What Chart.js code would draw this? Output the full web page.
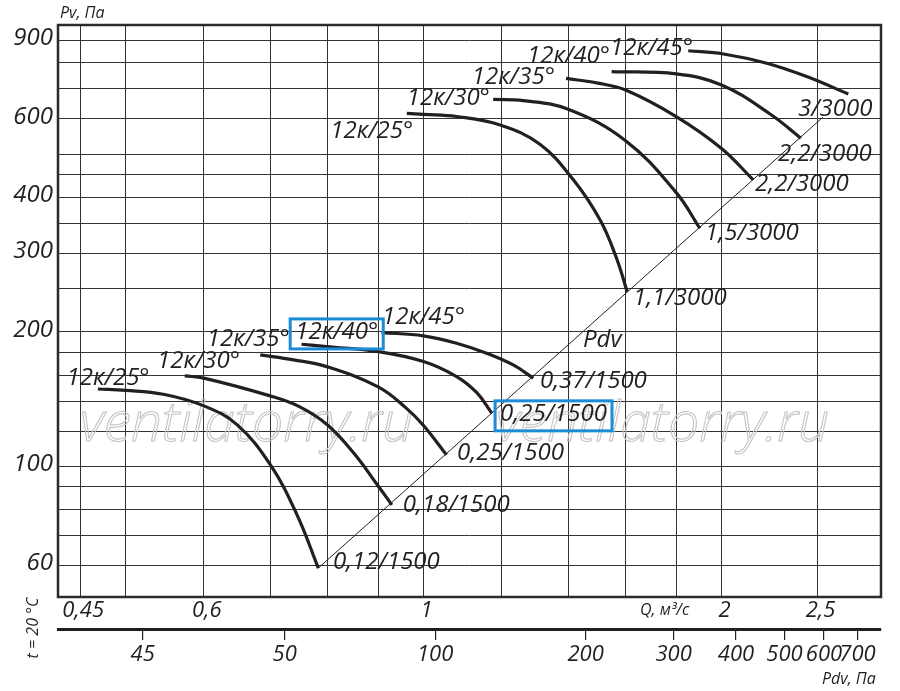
<!DOCTYPE html>
<html>
<head>
<meta charset="utf-8">
<script src="https://cdn.jsdelivr.net/npm/chart.js@4.4.1/dist/chart.umd.min.js"></script>
<style>
  html, body { margin: 0; padding: 0; background: #fff; }
  #wrap { width: 900px; height: 691px; }
</style>
</head>
<body>
<div id="wrap"><canvas id="chart"></canvas></div>
<script>
// Q, m3/s (log axis): grid lines and labelled ticks
const qGrid = [0.45, 0.5, 0.6, 0.7, 0.8, 0.9, 1, 1.2, 1.4, 1.6, 1.8, 2, 2.5];
const qTickValues = [0.45, 0.6, 1, 2, 2.5];
const qTickLabels = ['0,45', '0,6', '1', '2', '2,5'];
const qRange = [0.4274, 2.898];

// Pv, Pa (log axis)
const pGrid = [60, 70, 80, 90, 100, 120, 140, 160, 180, 200, 250, 300, 350, 400, 450, 500, 600, 700, 800, 900];
const pTickValues = [60, 100, 200, 300, 400, 600, 900];
const pRange = [51, 973];

// Pdv, Pa (second log axis under Q)
const pdvTickValues = [26, 50, 100, 200, 300, 400, 500, 600, 700];
const pdvTickLabels = ['45', '50', '100', '200', '300', '400', '500', '600', '700'];
const pdvRange = [17.6, 780];

// fan curves [Q, Pv], 1500 rpm
const curve1500_25 = [[0.469, 149], [0.500, 148], [0.546, 145], [0.600, 136.6], [0.648, 124], [0.700, 101], [0.745, 78], [0.783, 59.2]];
const curve1500_30 = [[0.574, 159.4], [0.600, 157.6], [0.700, 143.8], [0.750, 135.9], [0.800, 123.8], [0.849, 107.5], [0.900, 90.4], [0.929, 82.0]];
const curve1500_35 = [[0.684, 177.7], [0.739, 173.2], [0.800, 167], [0.900, 150.6], [0.960, 135.2], [1.000, 123.5], [1.055, 106.1]];
const curve1500_40 = [[0.753, 187.7], [0.798, 185.4], [0.900, 180.7], [1.000, 171.7], [1.080, 158.9], [1.132, 146.2], [1.172, 131.6]];
const curve1500_45 = [[0.907, 199.3], [1.000, 196], [1.080, 188.7], [1.158, 179.2], [1.232, 168.7], [1.291, 157.6]];

// fan curves [Q, Pv], 3000 rpm
const curve3000_25 = [[0.962, 617], [1.000, 614], [1.080, 607], [1.195, 581], [1.311, 526], [1.417, 438], [1.508, 356], [1.567, 292], [1.606, 246]];
const curve3000_30 = [[1.176, 663], [1.261, 659], [1.400, 630], [1.600, 536], [1.800, 410], [1.902, 341]];
const curve3000_35 = [[1.393, 739], [1.500, 721], [1.600, 696], [1.800, 607], [2.000, 515], [2.153, 438]];
const curve3000_40 = [[1.549, 765], [1.800, 756], [2.000, 714], [2.239, 615], [2.405, 543]];
const curve3000_45 = [[1.851, 852], [2.009, 838], [2.222, 799], [2.438, 746], [2.686, 682]];

// Pv = Pdv line
const pdvLine = [[0.783, 59.2], [2.532, 605]];

// curve captions: text, Q, Pv, boxed
const captions = [
  ['12к/25°', 0.436, 157.8], ['12к/30°', 0.538, 172.2], ['12к/35°', 0.604, 192.9],
  ['12к/40°', 0.742, 200, true], ['12к/45°', 0.908, 216.1],
  ['0,12/1500', 0.810, 61.1], ['0,18/1500', 0.953, 82.0], ['0,25/1500', 1.081, 107.2],
  ['0,25/1500', 1.195, 131.1, true], ['0,37/1500', 1.311, 155.4], ['Pdv', 1.449, 191.9],
  ['12к/25°', 0.805, 563.5], ['12к/30°', 0.962, 667.9], ['12к/35°', 1.119, 744.2],
  ['12к/40°', 1.272, 829.4], ['12к/45°', 1.543, 864.3],
  ['1,1/3000', 1.628, 238.3], ['1,5/3000', 1.925, 333.1], ['2,2/3000', 2.162, 428.8],
  ['2,2/3000', 2.281, 500.5], ['3/3000', 2.389, 631.1]
];

const FONT = '"Open Sans", sans-serif';
const INK = '#231f20';

function toPoints(arr) {
  return arr.map((d) => ({ x: d[0], y: d[1] }));
}

function curveSet(arr) {
  return {
    data: toPoints(arr),
    borderColor: INK,
    borderWidth: 3.2,
    pointRadius: 0,
    showLine: true,
    tension: 0.4,
    borderCapStyle: 'butt',
  };
}

const annotations = {
  id: 'annotations',
  beforeDatasetsDraw(chart) {
    const { ctx, chartArea: a } = chart;
    ctx.save();
    // watermark
    ctx.font = 'italic 300 55px ' + FONT;
    ctx.strokeStyle = '#c4c4c4';
    ctx.lineWidth = 1.1;
    ctx.textBaseline = 'alphabetic';
    ctx.strokeText('ventilatorry.ru', a.left + 22, a.top + 416);
    ctx.strokeText('ventilatorry.ru', a.left + 438, a.top + 416);
    // frame
    ctx.strokeStyle = '#2b2b2b';
    ctx.lineWidth = 2.5;
    ctx.strokeRect(a.left, a.top, a.right - a.left, a.bottom - a.top);
    ctx.restore();
  },
  afterDatasetsDraw(chart) {
    const { ctx, chartArea: a, scales } = chart;
    ctx.save();
    ctx.fillStyle = INK;
    ctx.textBaseline = 'middle';
    ctx.textAlign = 'left';
    ctx.font = 'italic 24px ' + FONT;
    captions.forEach((c) => {
      const x = scales.x.getPixelForValue(c[1]);
      const y = scales.y.getPixelForValue(c[2]);
      ctx.fillText(c[0], x, y);
      if (c[3]) {
        const w = ctx.measureText(c[0]).width;
        ctx.strokeStyle = '#1a8cd8';
        ctx.lineWidth = 3;
        ctx.strokeRect(x - 5, y - 13, w + 10, 30);
      }
    });
    // axis titles
    ctx.font = 'italic 16px ' + FONT;
    ctx.fillText('Pv, Па', a.left + 2, a.top - 12);
    ctx.fillText('Q, м³/с', a.right - 241, a.bottom + 13);
    ctx.fillText('Pdv, Па', a.right - 59, a.bottom + 82);
    ctx.translate(33, a.bottom + 31);
    ctx.rotate(-Math.PI / 2);
    ctx.textAlign = 'center';
    ctx.fillText('t = 20 °C', 0, 0);
    ctx.restore();
  }
};

new Chart(document.getElementById('chart'), {
  type: 'scatter',
  data: {
    datasets: [
      curveSet(curve1500_25), curveSet(curve1500_30), curveSet(curve1500_35),
      curveSet(curve1500_40), curveSet(curve1500_45),
      curveSet(curve3000_25), curveSet(curve3000_30), curveSet(curve3000_35),
      curveSet(curve3000_40), curveSet(curve3000_45),
      {
        data: toPoints(pdvLine),
        borderColor: INK,
        borderWidth: 1,
        pointRadius: 0,
        showLine: true,
      },
    ],
  },
  options: {
    responsive: true,
    maintainAspectRatio: false,
    animation: false,
    layout: { padding: { top: 25, right: 19, left: 0, bottom: 0 } },
    plugins: { legend: { display: false }, tooltip: { enabled: false } },
    scales: {
      x: {
        type: 'logarithmic',
        position: 'bottom',
        min: qRange[0],
        max: qRange[1],
        afterBuildTicks: (s) => { s.ticks = qGrid.map((v) => ({ value: v })); },
        afterFit: (s) => { s.height = 32; },
        grid: { color: '#333', lineWidth: 1, drawTicks: false },
        border: { display: false },
        ticks: {
          autoSkip: false,
          maxRotation: 0,
          padding: 1,
          labelOffset: 3,
          color: INK,
          font: { family: FONT, size: 22, style: 'italic' },
          callback: (v) => {
            const i = qTickValues.indexOf(v);
            return i >= 0 ? qTickLabels[i] : '';
          },
        },
      },
      x2: {
        type: 'logarithmic',
        position: 'bottom',
        weight: 1,
        min: pdvRange[0],
        max: pdvRange[1],
        afterBuildTicks: (s) => { s.ticks = pdvTickValues.map((v) => ({ value: v })); },
        afterFit: (s) => { s.height = 62; },
        grid: { drawOnChartArea: false, drawTicks: true, tickLength: 11, color: INK, lineWidth: 1.2 },
        border: { display: true, color: INK, width: 3 },
        ticks: {
          autoSkip: false,
          maxRotation: 0,
          padding: 2,
          color: INK,
          font: { family: FONT, size: 22, style: 'italic' },
          callback: (v) => {
            const i = pdvTickValues.indexOf(v);
            return i >= 0 ? pdvTickLabels[i] : '';
          },
        },
      },
      y: {
        type: 'logarithmic',
        position: 'left',
        min: pRange[0],
        max: pRange[1],
        afterBuildTicks: (s) => { s.ticks = pGrid.map((v) => ({ value: v })); },
        afterFit: (s) => { s.width = 58; },
        grid: { color: '#333', lineWidth: 1, drawTicks: false },
        border: { display: false },
        ticks: {
          autoSkip: false,
          padding: 5,
          labelOffset: -2,
          color: INK,
          font: { family: FONT, size: 24, style: 'italic' },
          callback: (v) => (pTickValues.indexOf(v) >= 0 ? String(v) : ''),
        },
      },
    },
  },
  plugins: [annotations],
});
</script>
</body>
</html>
